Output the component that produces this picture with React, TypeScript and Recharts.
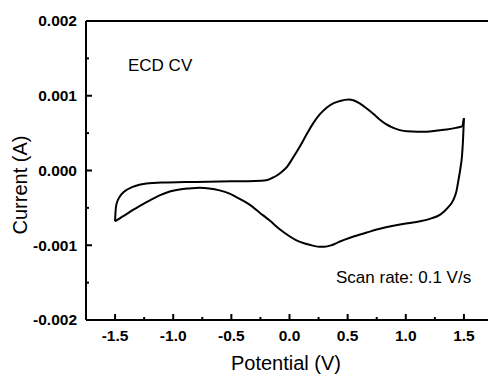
import React from 'react';
import { LineChart, Line, XAxis, YAxis, ReferenceLine } from 'recharts';

// forward scan (-1.5 V -> 1.5 V)
const forwardPotential = [
  -1.5, -1.496, -1.488, -1.46, -1.42, -1.348, -1.29, -1.233, -1.1, -0.9, -0.7, -0.5, -0.3, -0.2, -0.15,
  -0.112, -0.06, -0.026, 0.03, 0.089, 0.15, 0.203, 0.26, 0.319, 0.38, 0.434, 0.511, 0.548, 0.6, 0.664,
  0.72, 0.778, 0.83, 0.893, 0.95, 1.009, 1.1, 1.181, 1.27, 1.353, 1.43, 1.483, 1.5,
];
const forwardCurrent = [
  -0.00068, -0.00055, -0.00045, -0.00035, -0.00028, -0.00022, -0.00019, -0.000175, -0.00016, -0.000155,
  -0.00015, -0.000145, -0.00014, -0.00013, -0.0001, -0.00007, -0.00001, 0.00004, 0.00017, 0.00032,
  0.00049, 0.00063, 0.00075, 0.00084, 0.0009, 0.00093, 0.00095, 0.00094, 0.0009, 0.00083, 0.00076,
  0.00068, 0.00062, 0.00057, 0.00054, 0.000525, 0.00052, 0.00052, 0.000535, 0.00055, 0.00057, 0.00059,
  0.0007,
];

// reverse scan (1.5 V -> -1.5 V), listed by increasing potential
const reversePotential = [
  -1.5, -1.45, -1.405, -1.35, -1.29, -1.2, -1.118, -1.03, -0.946, -0.86, -0.773, -0.69, -0.601, -0.515,
  -0.428, -0.34, -0.256, -0.17, -0.084, 0.0, 0.06, 0.14, 0.2, 0.261, 0.3, 0.36, 0.434, 0.52, 0.6, 0.664,
  0.75, 0.893, 1.0, 1.123, 1.22, 1.296, 1.36, 1.41, 1.435, 1.454, 1.47, 1.483, 1.492, 1.5,
];
const reverseCurrent = [
  -0.00068, -0.00063, -0.000587, -0.00053, -0.000476, -0.0004, -0.000333, -0.00028, -0.000253, -0.00024,
  -0.000231, -0.00024, -0.000266, -0.00031, -0.00038, -0.00046, -0.000564, -0.00067, -0.000787, -0.00088,
  -0.000935, -0.00098, -0.001005, -0.00102, -0.00102, -0.001, -0.00095, -0.0009, -0.00086, -0.00083,
  -0.00079, -0.00074, -0.00071, -0.00068, -0.00064, -0.00059, -0.0005, -0.00039, -0.00028, -0.00012,
  0.00003, 0.00019, 0.0004, 0.0007,
];

const xMajor = [-1.5, -1.0, -0.5, 0.0, 0.5, 1.0, 1.5];
const xMinor = [-1.25, -0.75, -0.25, 0.25, 0.75, 1.25];
const yMajor = [-0.002, -0.001, 0.0, 0.001, 0.002];
const yMinor = [-0.0015, -0.0005, 0.0005, 0.0015];

const forwardData = forwardPotential.map((v, i) => ({ v, i: forwardCurrent[i] }));
const reverseData = reversePotential.map((v, i) => ({ v, i: reverseCurrent[i] }));

const FONT = '"Liberation Sans", Arial, sans-serif';

const isMajor = (list: number[], val: number) => list.some((m) => Math.abs(m - val) < 1e-9);

const XTick = (props: any) => {
  const { x, y, payload } = props;
  const major = isMajor(xMajor, payload.value);
  return (
    <g>
      <line x1={x} y1={y} x2={x} y2={y - (major ? 6 : 3)} stroke="#000" strokeWidth={2} />
      {major && (
        <text x={x} y={y + 21} textAnchor="middle" fontFamily={FONT} fontWeight="bold" fontSize={15.5} fill="#000">
          {payload.value.toFixed(1)}
        </text>
      )}
    </g>
  );
};

const YTick = (props: any) => {
  const { x, y, payload } = props;
  const major = isMajor(yMajor, payload.value);
  return (
    <g>
      <line x1={x} y1={y} x2={x + (major ? 6 : 3)} y2={y} stroke="#000" strokeWidth={2} />
      {major && (
        <text x={x - 9} y={y} dy="0.35em" textAnchor="end" fontFamily={FONT} fontWeight="bold" fontSize={15.5} fill="#000">
          {payload.value.toFixed(3)}
        </text>
      )}
    </g>
  );
};

export default function App() {
  return (
    <div style={{ position: 'absolute', left: 0, top: 0, width: 488, height: 374, overflow: 'hidden', background: '#fff' }}>
      <LineChart width={500} height={374} margin={{ top: 21, right: 7, left: 0, bottom: 0 }}>
        <XAxis
          type="number"
          dataKey="v"
          domain={[-1.75, 1.75]}
          ticks={[...xMajor, ...xMinor].sort((a, b) => a - b)}
          interval={0}
          height={54}
          tickSize={0}
          tickMargin={0}
          tickLine={false}
          axisLine={{ stroke: '#000', strokeWidth: 2 }}
          tick={<XTick />}
          allowDataOverflow
        />
        <YAxis
          type="number"
          dataKey="i"
          domain={[-0.002, 0.002]}
          ticks={[...yMajor, ...yMinor].sort((a, b) => a - b)}
          interval={0}
          width={86}
          tickSize={0}
          tickMargin={0}
          tickLine={false}
          axisLine={{ stroke: '#000', strokeWidth: 2 }}
          tick={<YTick />}
          allowDataOverflow
        />
        <ReferenceLine y={0.002} stroke="#000" strokeWidth={2} />
        <Line data={forwardData} dataKey="i" type="monotone" stroke="#000" strokeWidth={2} dot={false} isAnimationActive={false} />
        <Line data={reverseData} dataKey="i" type="monotone" stroke="#000" strokeWidth={2} dot={false} isAnimationActive={false} />
        <text x={128} y={71} fontFamily={FONT} fontSize={17} fill="#000">ECD CV</text>
        <text x={336} y={283} fontFamily={FONT} fontSize={17} fill="#000">Scan rate: 0.1 V/s</text>
        <text x={286} y={370} textAnchor="middle" fontFamily={FONT} fontSize={20} fill="#000">Potential (V)</text>
        <text x={27} y={185} textAnchor="middle" transform="rotate(-90 27 185)" fontFamily={FONT} fontSize={20} fill="#000">Current (A)</text>
      </LineChart>
    </div>
  );
}
